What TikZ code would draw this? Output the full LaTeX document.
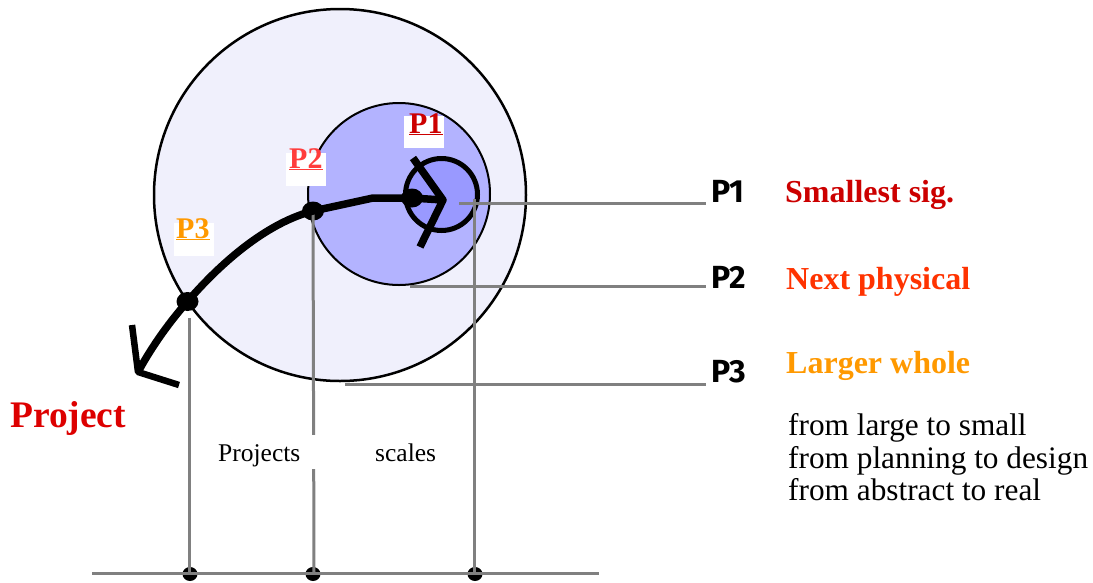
\documentclass[tikz,border=0pt]{standalone}
\usepackage{fontspec}
\setmainfont{Liberation Serif}
\newfontfamily\plabfont{Fira Sans}
\usetikzlibrary{shapes.geometric}
\definecolor{bigc}{RGB}{240,240,252}
\definecolor{midc}{RGB}{179,179,255}
\definecolor{smallc}{RGB}{153,153,255}
\definecolor{lgray}{RGB}{128,128,128}
\definecolor{redA}{RGB}{204,0,0}
\definecolor{redB}{RGB}{255,51,0}
\definecolor{redC}{RGB}{255,60,60}
\definecolor{orangeA}{RGB}{255,153,0}
\definecolor{projred}{RGB}{221,0,0}
\tikzset{
  gline/.style={draw=lgray, line width=3pt},
  bold curve/.style={draw=black, line width=7.5pt, line join=round},
  dotnode/.style={ellipse, fill=black, inner sep=0pt, minimum width=22pt, minimum height=19pt},
  basedot/.style={ellipse, fill=black, inner sep=0pt, minimum width=15pt, minimum height=14pt},
  whitebox/.style={fill=white, inner sep=0pt, minimum width=40pt, minimum height=33pt},
  ulab/.style={anchor=base west, inner sep=0pt, font=\fontsize{30}{30}\selectfont\bfseries},
  plab/.style={anchor=base west, inner sep=0pt, font=\fontsize{32}{32}\plabfont\bfseries},
  desc/.style={anchor=base west, inner sep=0pt, font=\fontsize{32}{32}\selectfont\bfseries},
  small text/.style={anchor=base west, inner sep=0pt, font=\fontsize{25.5}{28}\selectfont},
  note/.style={anchor=base west, inner sep=0pt, font=\fontsize{31.3}{32}\selectfont}
}
\begin{document}
\begin{tikzpicture}[x=1pt,y=-1pt]
\useasboundingbox (0,0) rectangle (1093,582);
\fill[white] (0,0) rectangle (1093,582);

% circles
\node[circle, draw=black, line width=2.5pt, fill=bigc, minimum size=372pt, inner sep=0pt] (big) at (340,195) {};
\node[circle, draw=black, line width=2pt, fill=midc, minimum size=182pt, inner sep=0pt] (mid) at (399,194) {};
\node[circle, draw=black, line width=5pt, fill=smallc, minimum size=72pt, inner sep=0pt] (small) at (441.5,194.5) {};

% base dots
\node[basedot] (b1) at (190,574) {};
\node[basedot] (b2) at (313,574) {};
\node[basedot] (b3) at (475,574) {};

% gray guide lines
\coordinate (h1s) at (459,203);
\coordinate (h1e) at (706,203);
\coordinate (h2s) at (410,286);
\coordinate (h2e) at (706,286);
\coordinate (h3s) at (345,384);
\coordinate (h3e) at (706,384);
\coordinate (v1t) at (189,318);
\coordinate (v1b) at (189,573);
\coordinate (v2b) at (314,573);
\coordinate (v3t) at (474,199);
\coordinate (v3b) at (474,573);
\coordinate (base0) at (92,573);
\coordinate (base1) at (599,573);
\draw[gline] (h1s) -- (h1e);
\draw[gline] (h2s) -- (h2e);
\draw[gline] (h3s) -- (h3e);
\draw[gline] (base0) -- (base1);
\draw[gline] (v1t) -- (v1b);
\draw[gline] (v3t) -- (v3b);

% dots on the path
\node[dotnode] (p1dot) at (412,198) {};
\node[dotnode] (p2dot) at (313,211) {};
\node[dotnode] (p3dot) at (187.5,301.5) {};
\draw[gline] (p2dot.center) -- (v2b);

% thick path
\coordinate (bend) at (373,198);
\coordinate (chtip) at (443,200);
\coordinate (chtop) at (413,158);
\coordinate (chbot) at (420,247);
\coordinate (tip) at (138,372);
\coordinate (headA) at (132,325);
\coordinate (headB) at (179,385);
\draw[bold curve] (chtip) -- (p1dot.center) -- (bend) -- (p2dot.center)
  .. controls (270,222) and (225,258) .. (p3dot.center)
  .. controls (166,326) and (150,350) .. (tip);
\draw[bold curve] (chtop) -- (chtip) -- (chbot);
\draw[bold curve, line width=6.5pt] (headA) -- (tip) -- (headB);

% underlined labels with white boxes
\node[whitebox, minimum height=32pt] (w1) at (424,132) {};
\node[ulab, text=redA] (l1) at (409,133) {\underline{P1}};
\node[whitebox, minimum height=33pt] (w2) at (306,169.5) {};
\node[ulab, text=redC] (l2) at (289,168) {\underline{P2}};
\node[whitebox, minimum height=33pt] (w3) at (194,239.5) {};
\node[ulab, text=orangeA] (l3) at (176,238) {\underline{P3}};

% right labels
\node[plab] (r1) at (711,202) {P1};
\node[plab] (r2) at (711,288) {P2};
\node[plab] (r3) at (711,382) {P3};
\node[desc, text=redA] (d1) at (785,202) {Smallest sig.};
\node[desc, text=redB] (d2) at (786,289) {Next physical};
\node[desc, text=orangeA] (d3) at (786,373) {Larger whole};

% Project
\node[anchor=base west, inner sep=0pt, text=projred, font=\fontsize{37.5}{40}\selectfont\bfseries] (proj) at (10,427) {Project};

% bottom labels
\node[fill=white, inner sep=0pt, minimum width=118pt, minimum height=34pt] (projbox) at (259,452) {};
\node[small text] (projs) at (218,461) {Projects};
\node[small text] (scales) at (375,461) {scales};

\node[note] (n1) at (788,435) {from large to small};
\node[note] (n2) at (788,468) {from planning to design};
\node[note] (n3) at (788,500) {from abstract to real};
\end{tikzpicture}
\end{document}
